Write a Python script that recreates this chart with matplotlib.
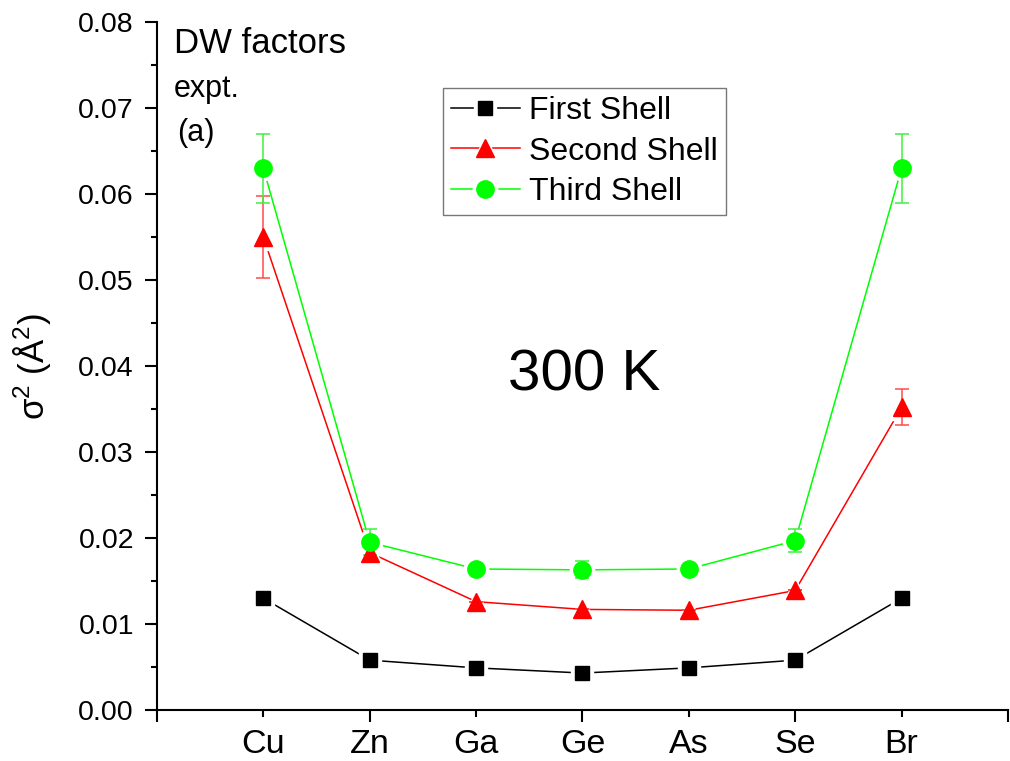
import matplotlib
matplotlib.use("Agg")
import matplotlib.pyplot as plt
from matplotlib.lines import Line2D
from matplotlib.legend_handler import HandlerTuple

plt.rcParams['font.family'] = ['Liberation Sans', 'DejaVu Sans']
plt.rcParams['mathtext.default'] = 'regular'

elements = ['Cu', 'Zn', 'Ga', 'Ge', 'As', 'Se', 'Br']
positions = [1, 2, 3, 4, 5, 6, 7]

first_shell = [0.0130, 0.0058, 0.0049, 0.0043, 0.0049, 0.0058, 0.0130]
second_shell = [0.0550, 0.0183, 0.0126, 0.0117, 0.0116, 0.0139, 0.0352]
second_err = [0.0048, 0.0007, 0.0, 0.0, 0.0, 0.0, 0.0021]
third_shell = [0.0630, 0.0195, 0.0164, 0.0163, 0.0164, 0.0197, 0.0630]
third_err = [0.0040, 0.0015, 0.0, 0.0010, 0.0, 0.0013, 0.0040]

series = [
    ('First Shell', first_shell, None, 'black', 's', 10.5, None),
    ('Second Shell', second_shell, second_err, '#ff0000', '^', 13, '#ff4a4a'),
    ('Third Shell', third_shell, third_err, '#00ff00', 'o', 12.5, '#40f040'),
]

fig = plt.figure(figsize=(10.1, 7.61), dpi=100)
ax = fig.add_axes([0.1554, 0.067, 0.8426, 0.904])

# connecting lines first
for name, vals, err, col, mk, ms, ecol in series:
    ax.plot(positions, vals, color=col, lw=1.1, zorder=2)
# white halos give the gap between line and marker
for name, vals, err, col, mk, ms, ecol in series:
    ax.plot(positions, vals, ls='none', marker=mk, ms=ms + 5, mfc='white',
            mec='white', zorder=3)
# error bars
for name, vals, err, col, mk, ms, ecol in series:
    if err is not None:
        ax.errorbar(positions, vals, yerr=err, fmt='none', ecolor=ecol,
                    elinewidth=1.1, capsize=4.7, capthick=1.1, zorder=4)
# markers
handles = []
for name, vals, err, col, mk, ms, ecol in series:
    ax.plot(positions, vals, ls='none', marker=mk, ms=ms, mfc=col, mec=col,
            zorder=5)
    h_line = Line2D([], [], color=col, lw=1.1)
    h_halo = Line2D([], [], ls='none', marker=mk, ms=ms + 5, mfc='white', mec='white')
    h_mark = Line2D([], [], ls='none', marker=mk, ms=ms, mfc=col, mec=col)
    handles.append((h_line, h_halo, h_mark))

ax.set_xlim(0, 8)
ax.set_ylim(0, 0.08)

# x ticks: elements sit at alternating major/minor positions
ax.set_xticks([0, 2, 4, 6, 8])
ax.set_xticklabels(['', 'Zn', 'Ge', 'Se', ''])
ax.set_xticks([1, 3, 5, 7], minor=True)
ax.set_xticklabels(['Cu', 'Ga', 'As', 'Br'], minor=True)
ax.tick_params(axis='x', which='major', length=8.6, width=1.5, direction='out',
               labelsize=24.5, pad=5)
ax.tick_params(axis='x', which='minor', length=5, width=1.5, direction='out',
               labelsize=24.5, pad=8.6)

ax.set_yticks([i * 0.01 for i in range(9)])
ax.set_yticklabels(['%.2f' % (i * 0.01) for i in range(9)])
ax.set_yticks([0.005 + i * 0.01 for i in range(8)], minor=True)
ax.tick_params(axis='y', which='major', length=8.6, width=1.5, direction='out',
               labelsize=20.5, pad=8)
ax.tick_params(axis='y', which='minor', length=4, width=1.5, direction='out')

for side in ('top', 'right'):
    ax.spines[side].set_visible(False)
for side in ('left', 'bottom'):
    ax.spines[side].set_linewidth(1.5)

ax.set_ylabel(r'σ$^2$ (Å$^2$)', fontsize=25)
ax.yaxis.set_label_coords(-0.122, 0.5)

ax.text(0.020, 0.955, 'DW factors', transform=ax.transAxes, fontsize=25,
        ha='left', va='baseline')
ax.text(0.020, 0.891, 'expt.', transform=ax.transAxes, fontsize=22,
        ha='left', va='baseline')
ax.text(0.024, 0.827, '(a)', transform=ax.transAxes, fontsize=22,
        ha='left', va='baseline')
ax.text(4.02, 0.0372, '300 K', fontsize=42, ha='center', va='baseline')

leg = ax.legend(handles, [s[0] for s in series],
                handler_map={tuple: HandlerTuple(ndivide=1)},
                loc='upper left', bbox_to_anchor=(0.336, 0.904),
                borderaxespad=0, fontsize=23, frameon=True, fancybox=False,
                edgecolor='#555555', handlelength=2.15, handletextpad=0.3,
                labelspacing=0.33, borderpad=0.25)
leg.get_frame().set_linewidth(1.0)

fig.savefig('out.png', dpi=100)
